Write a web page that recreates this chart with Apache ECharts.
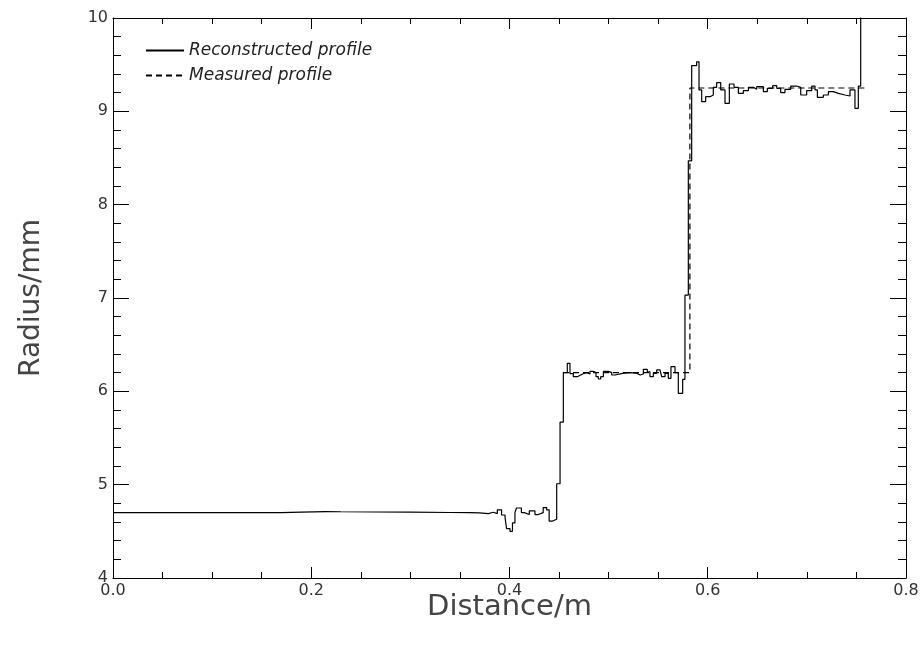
<!DOCTYPE html>
<html>
<head>
<meta charset="utf-8">
<script src="https://cdn.jsdelivr.net/npm/echarts@6/dist/echarts.min.js"></script>
<style>
  html, body { margin: 0; padding: 0; background: #fff; }
  #chart { width: 923px; height: 645px; }
</style>
</head>
<body>
<div id="chart"></div>
<script>
// reconstructed profile: left edge of each step (m) and its radius (mm)
var reconDistance = [
  0.000, 0.170, 0.190, 0.215, 0.230, 0.300, 0.340, 0.360,
  0.370, 0.3786, 0.3837, 0.3877, 0.392, 0.3955, 0.397, 0.4005, 0.403, 0.4055,
  0.407, 0.412, 0.415, 0.420, 0.4257, 0.429, 0.434, 0.4375, 0.440, 0.4436,
  0.4476, 0.451,
  0.4543, 0.4583, 0.4610, 0.4644, 0.4684, 0.4718, 0.4752, 0.4779, 0.4812, 0.4845,
  0.4873, 0.4896, 0.4920, 0.4947, 0.4997, 0.5031, 0.5064, 0.5140, 0.5210, 0.5283,
  0.5317, 0.5350, 0.5390, 0.5417, 0.5451, 0.5485, 0.5518, 0.5535, 0.5569, 0.5602,
  0.5629, 0.5670, 0.5703, 0.5747,
  0.5770, 0.5804,
  0.5838, 0.5888, 0.5912, 0.5939, 0.5979, 0.6023, 0.6056, 0.6090, 0.6131, 0.6174,
  0.6218, 0.6265, 0.6309, 0.6359, 0.6410, 0.6460, 0.6494, 0.6561, 0.6601, 0.6655,
  0.6696, 0.6736, 0.6779, 0.6837, 0.6897, 0.6938, 0.6998, 0.7049, 0.7082, 0.7106,
  0.7166, 0.7217, 0.7267, 0.7318, 0.7385, 0.7435, 0.7485, 0.7519, 0.7543, 0.7600
];
var reconRadius = [
  4.700, 4.706, 4.712, 4.710, 4.705, 4.702, 4.700, 4.697,
  4.690, 4.704, 4.690, 4.730, 4.675, 4.650, 4.530, 4.500, 4.590, 4.700,
  4.750, 4.700, 4.680, 4.720, 4.680, 4.700, 4.755, 4.730, 4.610, 4.630,
  5.010, 5.670,
  6.200, 6.300, 6.190, 6.157, 6.175, 6.193, 6.200, 6.186, 6.214, 6.200,
  6.157, 6.132, 6.157, 6.214, 6.200, 6.175, 6.193, 6.200, 6.195, 6.175,
  6.186, 6.236, 6.210, 6.157, 6.193, 6.229, 6.210, 6.157, 6.193, 6.139,
  6.264, 6.200, 5.979, 6.129,
  7.030, 8.470,
  9.490, 9.530, 9.229, 9.103, 9.157, 9.175, 9.257, 9.307, 9.229, 9.086,
  9.293, 9.257, 9.193, 9.221, 9.257, 9.236, 9.264, 9.211, 9.246, 9.275,
  9.246, 9.200, 9.236, 9.271, 9.257, 9.175, 9.221, 9.271, 9.229, 9.150,
  9.175, 9.211, 9.193, 9.175, 9.164, 9.229, 9.032, 9.271, 10.600, 10.600
];

// measured profile (visible from the first step onwards)
var measDistance = [0.454, 0.582, 0.7586];
var measRadius = [6.20, 9.25, 9.25];

var xTicks = { min: 0, max: 0.8, interval: 0.2 };
var yTicks = { min: 4, max: 10, interval: 1 };

function pairs(xs, ys) {
  var out = [];
  for (var i = 0; i < xs.length; i++) out.push([xs[i], ys[i]]);
  return out;
}

var chart = echarts.init(document.getElementById('chart'));
var fontFam = 'DejaVu Sans';
var axisLine = { show: true, onZero: false, lineStyle: { color: '#000', width: 1 } };

function xAxisDef(pos, labels) {
  return {
    type: 'value', position: pos, min: xTicks.min, max: xTicks.max, interval: xTicks.interval,
    axisLine: axisLine,
    axisTick: { show: true, inside: true, length: 11, lineStyle: { color: '#000' } },
    minorTick: { show: true, splitNumber: 4, length: 6, lineStyle: { color: '#000' } },
    splitLine: { show: false },
    axisLabel: {
      show: labels, margin: 5, color: '#333', fontSize: 16, fontFamily: fontFam,
      formatter: function (v) { return v.toFixed(1); }
    },
    name: labels ? 'Distance/m' : '', nameLocation: 'middle', nameGap: 15, nameMoveOverlap: false,
    nameTextStyle: { fontSize: 29, color: '#444', fontFamily: fontFam, verticalAlign: 'top' }
  };
}
function yAxisDef(pos, labels) {
  return {
    type: 'value', position: pos, min: yTicks.min, max: yTicks.max, interval: yTicks.interval,
    axisLine: axisLine,
    axisTick: { show: true, inside: true, length: 16, lineStyle: { color: '#000' } },
    minorTick: { show: true, splitNumber: 5, length: 8, lineStyle: { color: '#000' } },
    splitLine: { show: false },
    axisLabel: { show: labels, margin: 5, color: '#333', fontSize: 16, fontFamily: fontFam },
    name: labels ? 'Radius/mm' : '', nameLocation: 'middle', nameGap: 81, nameMoveOverlap: false,
    nameTextStyle: { fontSize: 28, color: '#444', fontFamily: fontFam, verticalAlign: 'middle' }
  };
}

chart.setOption({
  animation: false,
  backgroundColor: '#fff',
  grid: { left: 113, right: 17, top: 18, bottom: 67 },
  legend: {
    orient: 'vertical', left: 140, top: 37, itemWidth: 38, itemHeight: 10, itemGap: 8,
    itemStyle: { opacity: 0 },
    textStyle: { fontSize: 17, fontStyle: 'italic', color: '#222', fontFamily: fontFam },
    data: ['Reconstructed profile', 'Measured profile']
  },
  xAxis: [xAxisDef('bottom', true), xAxisDef('top', false)],
  yAxis: [yAxisDef('left', true), yAxisDef('right', false)],
  series: [
    {
      name: 'Reconstructed profile', type: 'line', step: 'end', symbol: 'none',
      data: pairs(reconDistance, reconRadius),
      lineStyle: { color: '#000', width: 1.2 }, itemStyle: { color: '#000' }, z: 3
    },
    {
      name: 'Measured profile', type: 'line', step: 'end', symbol: 'none',
      data: pairs(measDistance, measRadius),
      lineStyle: { color: '#000', width: 1.2, type: [6, 4] }, itemStyle: { color: '#000' }, z: 2
    }
  ]
});
</script>
</body>
</html>
